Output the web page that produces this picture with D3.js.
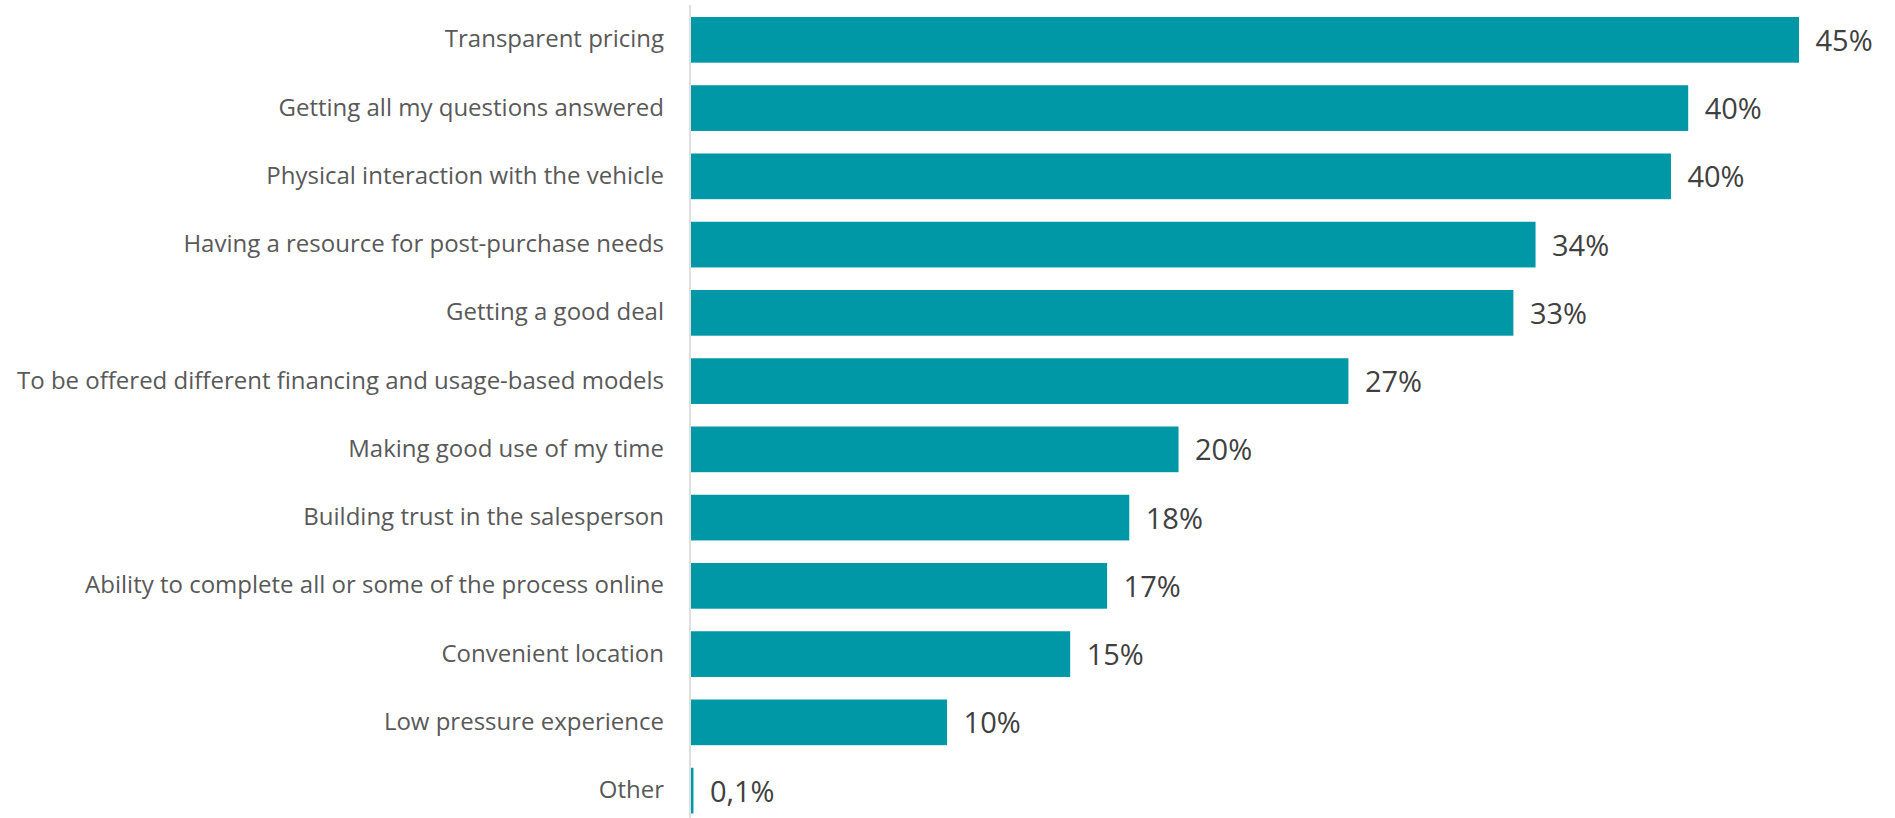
<!DOCTYPE html>
<html>
<head>
<meta charset="utf-8">
<script src="https://cdn.jsdelivr.net/npm/d3@7"></script>
<style>
  html, body { margin: 0; padding: 0; background: #ffffff; }
  svg { display: block; }
</style>
</head>
<body>
<svg id="chart" width="1895" height="818"></svg>
<script>
const categories = [
  "Transparent pricing",
  "Getting all my questions answered",
  "Physical interaction with the vehicle",
  "Having a resource for post-purchase needs",
  "Getting a good deal",
  "To be offered different financing and usage-based models",
  "Making good use of my time",
  "Building trust in the salesperson",
  "Ability to complete all or some of the process online",
  "Convenient location",
  "Low pressure experience",
  "Other"
];
const values = [45, 40.5, 39.8, 34.3, 33.4, 26.7, 19.8, 17.8, 16.9, 15.4, 10.4, 0.1];
const valueLabels = ["45%", "40%", "40%", "34%", "33%", "27%", "20%", "18%", "17%", "15%", "10%", "0,1%"];

const svg = d3.select("#chart");
const x0 = 691, x45 = 1799;
const x = d3.scaleLinear().domain([0, 45]).range([x0, x45]);
const step = 68.25, barH = 45.7;
const top0 = 17 - (step - barH) / 2;
const y = d3.scaleBand().domain(categories)
  .range([top0, top0 + step * categories.length])
  .paddingInner(1 - barH / step).paddingOuter((1 - barH / step) / 2);

// axis line
svg.append("line")
  .attr("x1", 690).attr("x2", 690)
  .attr("y1", 5).attr("y2", 818)
  .attr("stroke", "#d4d4d4").attr("stroke-width", 1.5);

svg.selectAll("rect.bar")
  .data(values)
  .enter().append("rect")
  .attr("class", "bar")
  .attr("x", x(0))
  .attr("y", (d, i) => y(categories[i]))
  .attr("width", d => Math.max(1.5, x(d) - x(0)))
  .attr("height", y.bandwidth())
  .attr("fill", "#0097a7");

svg.selectAll("text.cat")
  .data(categories)
  .enter().append("text")
  .attr("class", "cat")
  .attr("x", 664)
  .attr("y", d => y(d) + y.bandwidth() / 2 + 7.5)
  .attr("text-anchor", "end")
  .attr("font-family", "'Open Sans', sans-serif")
  .attr("font-size", 24)
  .attr("fill", "#595959")
  .text(d => d);

svg.selectAll("text.val")
  .data(values)
  .enter().append("text")
  .attr("class", "val")
  .attr("x", d => Math.max(x(d), x(0) + 1.5) + 16.5)
  .attr("y", (d, i) => y(categories[i]) + y.bandwidth() / 2 + 11)
  .attr("font-family", "'Open Sans', sans-serif")
  .attr("font-size", 29)
  .attr("fill", "#404040")
  .text((d, i) => valueLabels[i]);
</script>
</body>
</html>
